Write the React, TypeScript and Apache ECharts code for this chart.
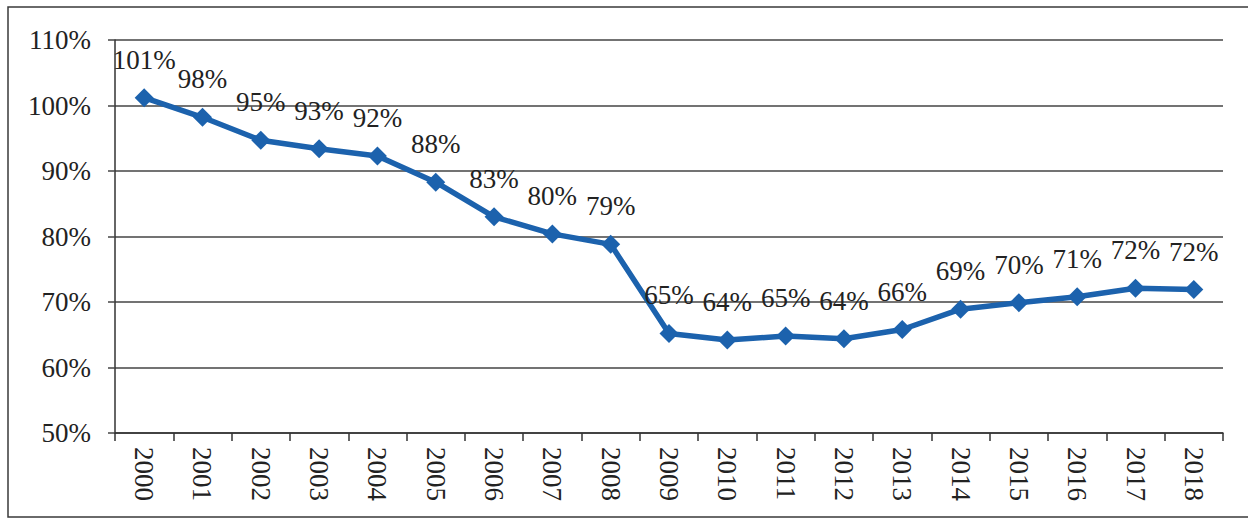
import React, { useEffect, useRef } from "react";
import * as echarts from "echarts";

const years = ["2000","2001","2002","2003","2004","2005","2006","2007","2008","2009","2010","2011","2012","2013","2014","2015","2016","2017","2018"];
const values = [101.2, 98.2, 94.7, 93.4, 92.3, 88.3, 83.0, 80.4, 78.8, 65.2, 64.2, 64.8, 64.4, 65.8, 68.9, 69.9, 70.8, 72.1, 71.9];
const yMin = 50;
const yMax = 110;
const yStep = 10;

const FONT = "Liberation Serif";

export default function App() {
  const ref = useRef<HTMLDivElement>(null);
  useEffect(() => {
    if (!ref.current) return;
    const chart = echarts.init(ref.current, null, { renderer: "svg" });
    chart.setOption({
      animation: false,
      backgroundColor: "#ffffff",
      grid: { left: 115, right: 25, top: 40, bottom: 86 },
      graphic: [
        {
          type: "rect",
          shape: { x: 8, y: 7, width: 1250, height: 510 },
          style: { fill: "none", stroke: "#3a3a3a", lineWidth: 1.5 },
          silent: true,
        },
      ],
      xAxis: {
        type: "category",
        data: years,
        boundaryGap: true,
        axisLine: { show: true, lineStyle: { color: "#333", width: 1.5 } },
        axisTick: { show: true, length: 8, alignWithLabel: false, lineStyle: { color: "#333", width: 1.5 } },
        axisLabel: { rotate: -90, margin: 14, fontSize: 27, fontFamily: FONT, color: "#222", interval: 0 },
        splitLine: { show: false },
      },
      yAxis: {
        type: "value",
        min: yMin,
        max: yMax,
        interval: yStep,
        axisLine: { show: true, lineStyle: { color: "#333", width: 1.5 } },
        axisTick: { show: true, length: 7, inside: false, lineStyle: { color: "#444", width: 1.5 } },
        axisLabel: { formatter: "{value}%", margin: 24, fontSize: 27, fontFamily: FONT, color: "#222" },
        splitLine: { show: true, lineStyle: { color: "#444", width: 1.5 } },
      },
      series: [
        {
          type: "line",
          data: values,
          symbol: "diamond",
          symbolSize: 19,
          lineStyle: { color: "#1c62ad", width: 5.5 },
          itemStyle: { color: "#1c62ad" },
          label: {
            show: true,
            position: "top",
            distance: 15,
            fontSize: 27,
            fontFamily: FONT,
            color: "#222",
            formatter: (p: any) => Math.round(p.value) + "%",
          },
        },
      ],
    });
    return () => chart.dispose();
  }, []);
  return (
    <div
      ref={ref}
      style={{ position: "fixed", left: 0, top: 0, width: 1248, height: 519 }}
    />
  );
}
